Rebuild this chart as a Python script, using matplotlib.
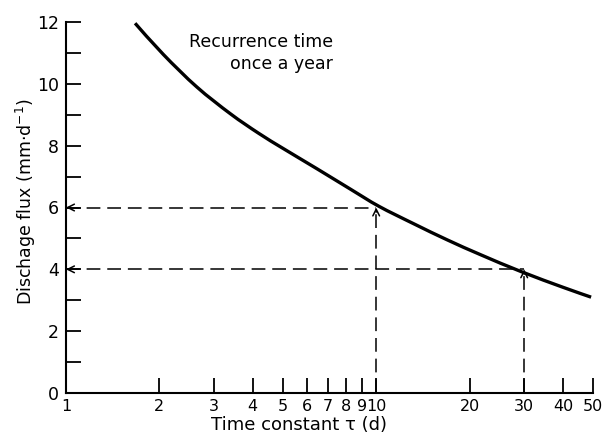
import matplotlib
matplotlib.use("Agg")
import numpy as np
import matplotlib.pyplot as plt
from matplotlib.path import Path
from matplotlib.patches import PathPatch
from matplotlib.ticker import FixedLocator, FixedFormatter, NullFormatter

# Data
tau = [1.67, 2.06, 2.64, 3.39, 4.18, 5.03, 6.45, 8.27, 10.2, 13.24, 16.97, 21.74, 29.27, 40.0, 49.3]
flux = [11.96, 10.95, 9.90, 9.03, 8.40, 7.90, 7.25, 6.59, 6.04, 5.47, 4.95, 4.47, 3.93, 3.42, 3.10]

ref_tau = [10, 30]
ref_flux = [6, 4]

x_ticks = [1, 2, 3, 4, 5, 6, 7, 8, 9, 10, 20, 30, 40, 50]
x_ticklabels = ["1", "2", "3", "4", "5", "6", "7", "8", "9", "10", "20", "30", "40", "50"]
y_major = [0, 2, 4, 6, 8, 10, 12]
y_minor = [1, 3, 5, 7, 9, 11]

plt.rcParams['font.family'] = ['DejaVu Sans']

W, H = 603, 434
fig = plt.figure(figsize=(W / 100, H / 100), dpi=100)
x0, x1, ytop, ybot = 66, 593, 22, 393
ax = fig.add_axes([x0 / W, 1 - ybot / H, (x1 - x0) / W, (ybot - ytop) / H])

ax.set_xscale('log')
ax.set_xlim(1, 50)
ax.set_ylim(0, 12)


def smooth_path(xs, ys):
    """Catmull-Rom curve through the data points, as cubic Bezier segments
    (control points built in log-x space so the curve is smooth on the log axis)."""
    lx = np.log10(np.asarray(xs, float))
    yy = np.asarray(ys, float)
    n = len(lx)
    P = np.column_stack([lx, yy])
    verts = [P[0]]
    codes = [Path.MOVETO]
    for i in range(n - 1):
        p0 = P[i - 1] if i > 0 else P[i]
        p1, p2 = P[i], P[i + 1]
        p3 = P[i + 2] if i + 2 < n else P[i + 1]
        c1 = p1 + (p2 - p0) / 6.0
        c2 = p2 - (p3 - p1) / 6.0
        verts += [c1, c2, p2]
        codes += [Path.CURVE4] * 3
    verts = np.array(verts)
    verts[:, 0] = 10 ** verts[:, 0]
    return Path(verts, codes)


ax.add_patch(PathPatch(smooth_path(tau, flux), facecolor='none', edgecolor='black',
                       lw=2.4, capstyle='butt', clip_on=False))

dash = (0, (9, 4.5))
for t, q in zip(ref_tau, ref_flux):
    ax.plot([1, t], [q, q], color='black', lw=1.1, linestyle=dash, clip_on=False)
    ax.plot([t, t], [0, q], color='black', lw=1.1, linestyle=dash, clip_on=False)
    ax.annotate('', xy=(1, q), xytext=(1.03, q),
                arrowprops=dict(arrowstyle='->', lw=1.1, color='black',
                                mutation_scale=12, shrinkA=0, shrinkB=0))
    ax.annotate('', xy=(t, q), xytext=(t, q - 0.15),
                arrowprops=dict(arrowstyle='->', lw=1.1, color='black',
                                mutation_scale=12, shrinkA=0, shrinkB=0))

fig.text(333 / W, 1 - 53 / H, "Recurrence time\nonce a year",
         ha='right', va='center', fontsize=12.5, linespacing=1.3)

for s in ['top', 'right']:
    ax.spines[s].set_visible(False)
for s in ['left', 'bottom']:
    ax.spines[s].set_linewidth(1.5)

ax.xaxis.set_major_locator(FixedLocator(x_ticks))
ax.xaxis.set_major_formatter(FixedFormatter(x_ticklabels))
ax.xaxis.set_minor_locator(FixedLocator([]))
ax.xaxis.set_minor_formatter(NullFormatter())
ax.yaxis.set_major_locator(FixedLocator(y_major))
ax.yaxis.set_minor_locator(FixedLocator(y_minor))

ax.tick_params(axis='both', which='both', direction='in', width=1.3, length=11)
ax.tick_params(axis='y', labelsize=12.5, pad=5)
ax.tick_params(axis='x', labelsize=11.5, pad=4)

ax.set_xlabel("Time constant τ (d)", fontsize=13)
ax.xaxis.label.set_va('center')
ax.xaxis.set_label_coords((299 - x0) / (x1 - x0), (ybot - 425) / (ybot - ytop))

ax.set_ylabel("Dischage flux (mm·d$^{-1}$)", fontsize=12.5)
ax.yaxis.label.set_va('center')
ax.yaxis.set_label_coords((26 - x0) / (x1 - x0), (ybot - 202) / (ybot - ytop))

fig.savefig("out.png", dpi=100)
